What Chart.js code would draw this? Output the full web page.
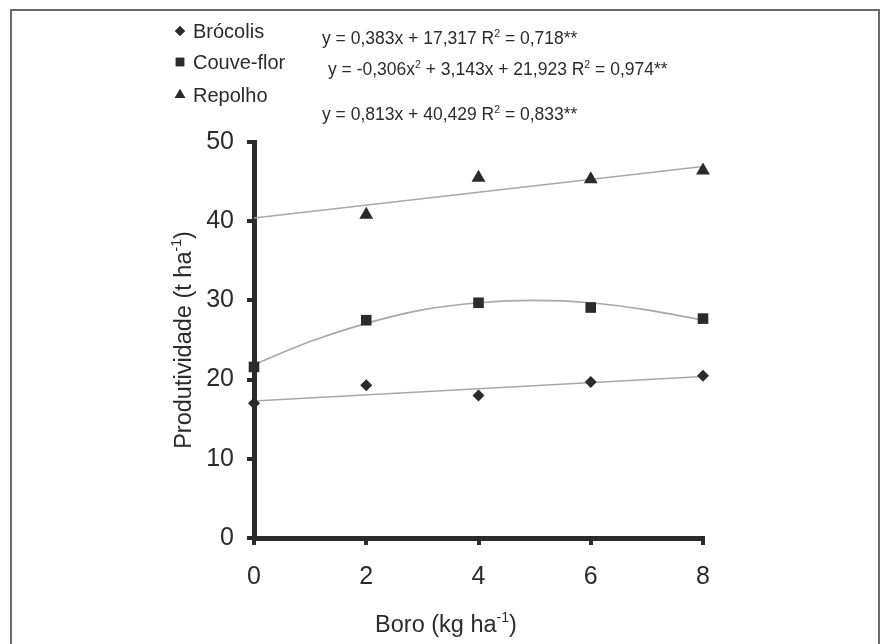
<!DOCTYPE html>
<html>
<head>
<meta charset="utf-8">
<script src="https://cdn.jsdelivr.net/npm/chart.js@4.4.0/dist/chart.umd.min.js"></script>
<style>
  body { margin: 0; background: #fff; }
  #wrap { position: relative; width: 882px; height: 644px; }
  #frame {
    position: absolute; left: 10px; top: 9px; width: 866px; height: 640px;
    border: 2px solid #6a6a6a; border-bottom: none; pointer-events: none;
  }
</style>
</head>
<body>
<div id="wrap">
  <canvas id="chart" width="882" height="644"></canvas>
  <div id="frame"></div>
</div>
<script>
const doses = [0, 2, 4, 6, 8];
const brocolis = [17.0, 19.3, 18.0, 19.7, 20.5];
const couveFlor = [21.6, 27.5, 29.7, 29.1, 27.7];
const repolho = [null, 40.8, 45.5, 45.3, 46.4];

// Fitted curves as drawn in the figure
const lineX = [0, 8];
const brocolisFit = [17.3, 20.4];
const repolhoFit = [40.4, 46.9];
const curveX = [0, 1, 2, 3, 4, 5, 6, 7, 8];
const couveFlorFit = [21.9, 24.8, 27.1, 28.8, 29.7, 30.0, 29.7, 28.8, 27.5];

const xTicks = [0, 2, 4, 6, 8];
const yTicks = [0, 10, 20, 30, 40, 50];

const seriesNames = ['Brócolis', 'Couve-flor', 'Repolho'];
const seriesStyles = ['rectRot', 'rect', 'triangle'];
const equations = [
    [['y = 0,383x + 17,317 R'], ['2', 1], [' = 0,718**']],
    [['y = -0,306x'], ['2', 1], [' + 3,143x + 21,923 R'], ['2', 1], [' = 0,974**']],
    [['y = 0,813x + 40,429 R'], ['2', 1], [' = 0,833**']]
];
const xTitle = [['Boro (kg ha'], ['-1', 1], [')']];
const yTitle = [['Produtividade (t ha'], ['-1', 1], [')']];

const INK = '#2b2b2b';
const FIT = '#a8a8a8';
const FONT = '"Liberation Sans", Arial, sans-serif';

function pairs(xs, ys) {
    return xs.map((x, i) => ({ x: x, y: ys[i] })).filter(p => p.y !== null);
}

// Draw text with small raised parts (superscripts)
function richWidth(ctx, segs, size) {
    let w = 0;
    segs.forEach(s => {
        ctx.font = (s[1] ? size * 0.6 : size) + 'px ' + FONT;
        w += ctx.measureText(s[0]).width;
    });
    return w;
}

function drawRich(ctx, segs, x, y, size) {
    let cx = x;
    segs.forEach(s => {
        ctx.font = (s[1] ? size * 0.6 : size) + 'px ' + FONT;
        ctx.fillText(s[0], cx, s[1] ? y - size * 0.42 : y);
        cx += ctx.measureText(s[0]).width;
    });
}

const textPlugin = {
    id: 'figureText',
    afterDraw(chart) {
        const ctx = chart.ctx;
        ctx.save();
        ctx.fillStyle = INK;
        ctx.strokeStyle = INK;
        ctx.textBaseline = 'alphabetic';
        ctx.textAlign = 'left';

        // legend
        const legendY = [38, 69, 102];
        const legendR = [5, 6, 6];
        seriesNames.forEach((name, i) => {
            Chart.helpers.drawPoint(ctx, {
                pointStyle: seriesStyles[i],
                radius: legendR[i],
                borderWidth: 0,
                rotation: 0
            }, 180, legendY[i] - 7);
            ctx.fill();
            ctx.font = '20px ' + FONT;
            ctx.fillText(name, 193, legendY[i]);
        });

        // equations
        const eqX = [322, 328, 322];
        const eqY = [44, 75, 120];
        equations.forEach((eq, i) => drawRich(ctx, eq, eqX[i], eqY[i], 17.5));

        // axis titles
        const area = chart.chartArea;
        const xw = richWidth(ctx, xTitle, 23.5);
        drawRich(ctx, xTitle, 446 - xw / 2, 632, 23.5);

        const yw = richWidth(ctx, yTitle, 23.5);
        ctx.translate(191, 340);
        ctx.rotate(-Math.PI / 2);
        drawRich(ctx, yTitle, -yw / 2, 0, 23.5);
        ctx.restore();
    }
};

const pointSet = (label, data, style, radius) => ({
    type: 'scatter',
    label: label,
    data: data,
    pointStyle: style,
    pointRadius: radius,
    pointBackgroundColor: INK,
    pointBorderColor: INK,
    pointBorderWidth: 0,
    clip: false,
    order: 0
});

const fitSet = (data, smooth) => ({
    type: 'line',
    data: data,
    borderColor: FIT,
    borderWidth: 1.6,
    pointRadius: 0,
    tension: smooth ? 0.4 : 0,
    cubicInterpolationMode: smooth ? 'monotone' : 'default',
    clip: false,
    order: 1
});

const axisFont = { family: FONT, size: 25 };

new Chart(document.getElementById('chart'), {
    type: 'scatter',
    data: {
        datasets: [
            fitSet(pairs(lineX, brocolisFit), false),
            fitSet(pairs(curveX, couveFlorFit), true),
            fitSet(pairs(lineX, repolhoFit), false),
            pointSet(seriesNames[0], pairs(doses, brocolis), 'rectRot', 6),
            pointSet(seriesNames[1], pairs(doses, couveFlor), 'rect', 7.5),
            pointSet(seriesNames[2], pairs(doses, repolho), 'triangle', 8)
        ]
    },
    options: {
        responsive: false,
        animation: false,
        events: [],
        layout: { padding: { top: 142, right: 179, left: 0, bottom: 0 } },
        plugins: {
            legend: { display: false },
            tooltip: { enabled: false }
        },
        scales: {
            x: {
                type: 'linear',
                min: 0,
                max: 8,
                afterBuildTicks: scale => { scale.ticks = xTicks.map(v => ({ value: v })); },
                afterFit: scale => { scale.height = 106; },
                ticks: { font: axisFont, color: INK, padding: 17 },
                grid: {
                    drawOnChartArea: false,
                    tickLength: 7,
                    lineWidth: 4,
                    color: INK
                },
                border: { display: true, width: 5, color: INK }
            },
            y: {
                min: 0,
                max: 50,
                afterBuildTicks: scale => { scale.ticks = yTicks.map(v => ({ value: v })); },
                afterFit: scale => { scale.width = 254; },
                ticks: { font: axisFont, color: INK, padding: 13 },
                grid: {
                    drawOnChartArea: false,
                    tickLength: 7,
                    lineWidth: 4,
                    color: INK
                },
                border: { display: true, width: 5, color: INK }
            }
        }
    },
    plugins: [textPlugin]
});
</script>
</body>
</html>
